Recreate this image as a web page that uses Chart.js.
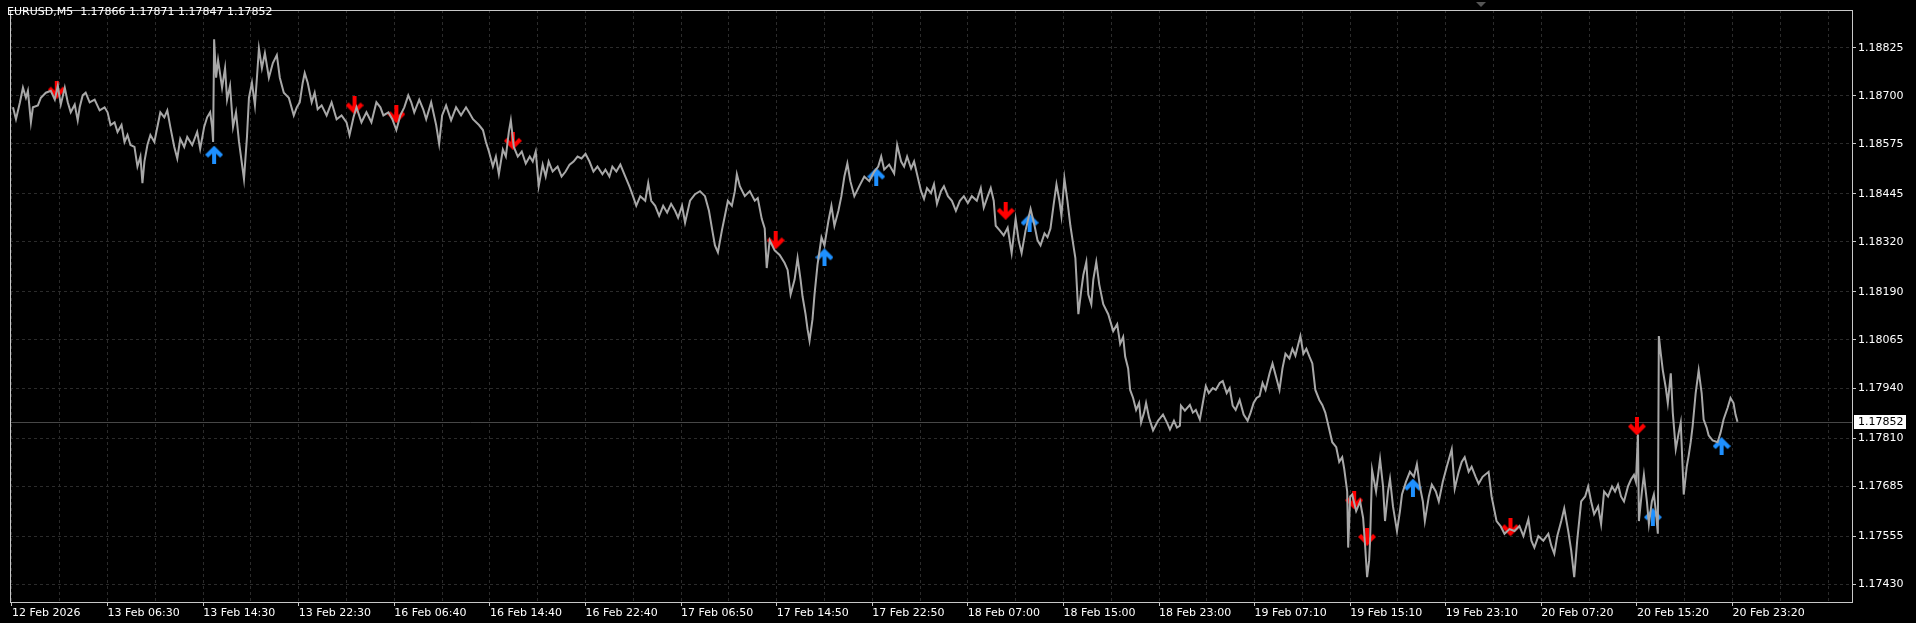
<!DOCTYPE html>
<html>
<head>
<meta charset="utf-8">
<title>EURUSD,M5</title>
<script src="https://cdn.jsdelivr.net/npm/chart.js@4.4.1/dist/chart.umd.min.js"></script>
<style>
  html, body { margin: 0; padding: 0; background: #000; overflow: hidden; }
  canvas { display: block; }
</style>
</head>
<body>
<canvas id="chart" width="1916" height="623" style="width:1916px;height:623px;"></canvas>
<script>
// EURUSD M5 - price path with signal arrows (MetaTrader style)

const symbolTitle = 'EURUSD,M5  1.17866 1.17871 1.17847 1.17852';
const lastPrice = 1.17852;

// time axis: one label every 96 bars (8 hours of M5)
const timeLabels = ['12 Feb 2026', '13 Feb 06:30', '13 Feb 14:30', '13 Feb 22:30', '16 Feb 06:40',
  '16 Feb 14:40', '16 Feb 22:40', '17 Feb 06:50', '17 Feb 14:50', '17 Feb 22:50', '18 Feb 07:00',
  '18 Feb 15:00', '18 Feb 23:00', '19 Feb 07:10', '19 Feb 15:10', '19 Feb 23:10', '20 Feb 07:20',
  '20 Feb 15:20', '20 Feb 23:20'];
const priceTicks = [1.18825, 1.18700, 1.18575, 1.18445, 1.18320, 1.18190, 1.18065,
  1.17940, 1.17810, 1.17685, 1.17555, 1.17430];

// price path (bar index, price): highs and lows
const pathBars = [
  1, 4, 8, 11, 14, 16, 19, 21, 26, 29,
  34, 39, 43, 46, 49, 53, 56, 59, 63, 66,
  68, 71, 74, 78, 83, 88, 93, 96, 99, 103,
  106, 110, 113, 116, 119, 123, 126, 129, 131, 133,
  136, 139, 143, 146, 149, 153, 156, 159, 163, 166,
  169, 173, 176, 181, 186, 189, 193, 196, 199, 201,
  202, 203, 205, 207, 211, 214, 216, 219, 222, 225,
  228, 233, 236, 238, 241, 244, 246, 248, 251, 254,
  258, 262, 266, 269, 273, 278, 283, 286, 289, 292,
  294, 297, 301, 304, 307, 311, 316, 321, 326, 331,
  336, 339, 343, 346, 351, 356, 361, 366, 370, 373,
  378, 382, 386, 390, 394, 398, 401, 404, 409, 413,
  416, 421, 426, 429, 432, 436, 441, 446, 451, 456,
  459, 463, 469, 473, 476, 479, 483, 486, 489, 493,
  496, 499, 501, 504, 508, 512, 516, 520, 523, 526,
  529, 533, 536, 539, 543, 548, 552, 556, 560, 564,
  568, 572, 576, 580, 584, 588, 593, 596, 600, 603,
  607, 611, 616, 620, 623, 627, 631, 636, 639, 642,
  646, 650, 654, 658, 662, 666, 669, 673, 676, 681,
  686, 691, 696, 700, 703, 706, 709, 713, 716, 719,
  723, 726, 728, 731, 736, 741, 746, 749, 753, 756,
  758, 761, 766, 771, 776, 779, 782, 786, 789, 792,
  794, 797, 799, 801, 804, 806, 809, 813, 816, 820,
  823, 826, 830, 833, 836, 839, 842, 846, 851, 856,
  861, 866, 870, 873, 876, 881, 886, 889, 893,
  896, 899, 903, 906, 909, 913, 916, 919, 923, 926,
  929, 933, 936, 940, 944, 948, 952, 956, 960, 964,
  969, 973, 976, 980, 983, 986, 988, 992, 996, 1000,
  1004, 1008, 1011, 1014, 1018, 1023, 1027, 1030, 1033, 1037,
  1040, 1043, 1046, 1049, 1052, 1054, 1057, 1060, 1063, 1066,
  1068, 1071, 1074, 1076, 1079, 1081, 1084, 1086, 1089, 1092,
  1096, 1101, 1106, 1110, 1113, 1116, 1118, 1121, 1123, 1126,
  1129, 1132, 1134, 1137, 1139, 1142, 1146, 1151, 1156, 1160,
  1163, 1167, 1170, 1173, 1174, 1178, 1183, 1186, 1189, 1193,
  1196, 1199, 1202, 1206, 1209, 1213, 1216, 1220, 1223, 1226,
  1229, 1233, 1237, 1241, 1244, 1247, 1250, 1253, 1256, 1259,
  1263, 1266, 1270, 1273, 1276, 1279, 1283, 1286, 1289, 1292,
  1294, 1297, 1300, 1303, 1306, 1309, 1313, 1316, 1319, 1323, 1326,
  1330, 1333, 1336, 1338, 1341, 1342, 1344, 1346, 1350, 1354,
  1357, 1359, 1361, 1363, 1364, 1366, 1370, 1374, 1377, 1379,
  1382, 1384, 1387, 1391, 1394, 1396, 1400, 1404, 1408, 1411,
  1414, 1417, 1419, 1423, 1426, 1430, 1433, 1437, 1441, 1446,
  1449, 1453, 1456, 1459, 1463, 1466, 1470, 1473, 1477, 1483,
  1486, 1491, 1495, 1499, 1504, 1509, 1514, 1518, 1523, 1526,
  1529, 1533, 1538, 1543, 1546, 1549, 1552, 1556, 1559, 1563,
  1566, 1569, 1572, 1576, 1580, 1583, 1586, 1589, 1593, 1596,
  1599, 1603, 1607, 1610, 1613, 1616, 1619, 1623, 1626, 1629,
  1631, 1633, 1634, 1637, 1639, 1642, 1644, 1647, 1649, 1651,
  1653, 1654, 1656, 1658, 1661, 1663, 1666, 1668, 1671, 1674,
  1676, 1679, 1682, 1684, 1686, 1688, 1691, 1694, 1697, 1699,
  1702, 1704, 1708, 1713, 1716, 1719, 1723, 1726, 1729, 1731, 1733
];
const pathPrices = [
  1.18670, 1.18639, 1.18683, 1.18721, 1.18695, 1.18713, 1.18631, 1.18670, 1.18675, 1.18695,
  1.18708, 1.18713, 1.18690, 1.18726, 1.18677, 1.18721, 1.18683, 1.18657, 1.18677, 1.18636,
  1.18670, 1.18701, 1.18708, 1.18683, 1.18690, 1.18662, 1.18670, 1.18657, 1.18624, 1.18631,
  1.18606, 1.18624, 1.18580, 1.18598, 1.18572, 1.18567, 1.18516, 1.18542, 1.18473, 1.18529,
  1.18572, 1.18598, 1.18580, 1.18619, 1.18657, 1.18644, 1.18662, 1.18619, 1.18567, 1.18537,
  1.18588, 1.18567, 1.18593, 1.18572, 1.18606, 1.18562, 1.18619, 1.18644, 1.18657, 1.18619,
  1.18580, 1.18847, 1.18747, 1.18793, 1.18721, 1.18772, 1.18690, 1.18726, 1.18619, 1.18657,
  1.18580, 1.18483, 1.18593, 1.18695, 1.18734, 1.18675, 1.18747, 1.18823, 1.18772, 1.18811,
  1.18747, 1.18785, 1.18806, 1.18747, 1.18708, 1.18695, 1.18649, 1.18670, 1.18683, 1.18734,
  1.18759, 1.18734, 1.18683, 1.18708, 1.18665, 1.18675, 1.18649, 1.18683, 1.18639, 1.18649,
  1.18631, 1.18598, 1.18644, 1.18670, 1.18631, 1.18657, 1.18631, 1.18683, 1.18670, 1.18649,
  1.18657, 1.18639, 1.18611, 1.18649, 1.18670, 1.18701, 1.18683, 1.18657, 1.18690, 1.18665,
  1.18639, 1.18683, 1.18624, 1.18575, 1.18649, 1.18675, 1.18636, 1.18670, 1.18649, 1.18670,
  1.18657, 1.18639, 1.18624, 1.18611, 1.18580, 1.18555, 1.18516, 1.18542, 1.18496, 1.18560,
  1.18542, 1.18606, 1.18636, 1.18567, 1.18542, 1.18555, 1.18524, 1.18542, 1.18529, 1.18555,
  1.18465, 1.18521, 1.18490, 1.18529, 1.18503, 1.18516, 1.18490, 1.18503, 1.18521, 1.18529,
  1.18542, 1.18537, 1.18549, 1.18529, 1.18503, 1.18516, 1.18496, 1.18508, 1.18490, 1.18516,
  1.18503, 1.18521, 1.18490, 1.18465, 1.18444, 1.18414, 1.18439, 1.18427, 1.18473, 1.18427,
  1.18414, 1.18388, 1.18414, 1.18396, 1.18419, 1.18401, 1.18383, 1.18414, 1.18370, 1.18427,
  1.18444, 1.18452, 1.18439, 1.18401, 1.18355, 1.18311, 1.18293, 1.18350, 1.18388, 1.18427,
  1.18414, 1.18452, 1.18496, 1.18465, 1.18439, 1.18452, 1.18427, 1.18434, 1.18380, 1.18355,
  1.18252, 1.18324, 1.18298, 1.18286, 1.18265, 1.18247, 1.18183, 1.18222, 1.18278, 1.18222,
  1.18178, 1.18132, 1.18093, 1.18063, 1.18119, 1.18183, 1.18260, 1.18332, 1.18311, 1.18375,
  1.18414, 1.18362, 1.18401, 1.18439, 1.18490, 1.18524, 1.18478, 1.18439, 1.18465, 1.18490,
  1.18478, 1.18503, 1.18516, 1.18542, 1.18508, 1.18521, 1.18498, 1.18572, 1.18529,
  1.18516, 1.18542, 1.18511, 1.18529, 1.18496, 1.18452, 1.18432, 1.18460, 1.18447, 1.18470,
  1.18419, 1.18452, 1.18465, 1.18439, 1.18427, 1.18401, 1.18427, 1.18439, 1.18421, 1.18439,
  1.18427, 1.18460, 1.18409, 1.18439, 1.18460, 1.18427, 1.18362, 1.18350, 1.18337, 1.18357,
  1.18291, 1.18380, 1.18324, 1.18291, 1.18350, 1.18406, 1.18362, 1.18324, 1.18311, 1.18342,
  1.18332, 1.18355, 1.18414, 1.18470, 1.18427, 1.18388, 1.18485, 1.18427, 1.18362, 1.18311,
  1.18278, 1.18132, 1.18196, 1.18234, 1.18268, 1.18183, 1.18158, 1.18222, 1.18268, 1.18209,
  1.18158, 1.18132, 1.18088, 1.18106, 1.18055, 1.18073, 1.18022, 1.17991, 1.17935, 1.17914,
  1.17883, 1.17901, 1.17850, 1.17876, 1.17901, 1.17863, 1.17830, 1.17855, 1.17871, 1.17850,
  1.17832, 1.17855, 1.17837, 1.17842, 1.17894, 1.17881, 1.17896, 1.17876, 1.17883, 1.17858,
  1.17901, 1.17945, 1.17927, 1.17940, 1.17935, 1.17953, 1.17958, 1.17927, 1.17940, 1.17894,
  1.17883, 1.17909, 1.17871, 1.17855, 1.17876, 1.17901, 1.17914, 1.17919, 1.17953, 1.17935,
  1.17978, 1.18004, 1.17965, 1.17935, 1.17991, 1.18029, 1.18017, 1.18042, 1.18024, 1.18055,
  1.18075, 1.18029, 1.18042, 1.18022, 1.18004, 1.17935, 1.17909, 1.17896, 1.17876, 1.17832, 1.17799,
  1.17786, 1.17748, 1.17760, 1.17730, 1.17671, 1.17525, 1.17658, 1.17663, 1.17620, 1.17645,
  1.17602, 1.17530, 1.17448, 1.17491, 1.17543, 1.17727, 1.17671, 1.17755, 1.17684, 1.17594,
  1.17671, 1.17704, 1.17632, 1.17568, 1.17620, 1.17663, 1.17696, 1.17722, 1.17709, 1.17742,
  1.17684, 1.17645, 1.17594, 1.17658, 1.17689, 1.17671, 1.17645, 1.17696, 1.17735, 1.17781,
  1.17678, 1.17722, 1.17748, 1.17760, 1.17722, 1.17735, 1.17709, 1.17691, 1.17709, 1.17722,
  1.17658, 1.17594, 1.17581, 1.17561, 1.17573, 1.17568, 1.17581, 1.17555, 1.17599, 1.17543,
  1.17525, 1.17555, 1.17543, 1.17561, 1.17530, 1.17509, 1.17555, 1.17594, 1.17627, 1.17568,
  1.17517, 1.17448, 1.17543, 1.17645, 1.17658, 1.17684, 1.17645, 1.17612, 1.17632, 1.17586,
  1.17671, 1.17658, 1.17684, 1.17671, 1.17689, 1.17658, 1.17645, 1.17684, 1.17702, 1.17714,
  1.17696, 1.17819, 1.17594, 1.17671, 1.17714, 1.17645, 1.17586, 1.17645, 1.17663, 1.17620,
  1.17561, 1.18075, 1.18029, 1.17986, 1.17940, 1.17901, 1.17978, 1.17876, 1.17781, 1.17824,
  1.17850, 1.17663, 1.17735, 1.17765, 1.17799, 1.17842, 1.17927, 1.17986, 1.17927, 1.17858,
  1.17837, 1.17817, 1.17804, 1.17799, 1.17824, 1.17858, 1.17888, 1.17914, 1.17901, 1.17871, 1.17852
];

// sell / buy signal arrows
const downBars = [45, 344, 386, 503, 767, 998, 1348, 1361, 1505, 1632];
const downPrices = [1.18716, 1.18675, 1.18652, 1.18583, 1.18324, 1.18401, 1.17648, 1.17553, 1.17578, 1.17840];
const upBars = [203, 816, 868, 1022, 1407, 1648, 1717];
const upPrices = [1.18547, 1.18280, 1.18490, 1.18370, 1.17681, 1.17604, 1.17789];

const FONT = '"DejaVu Sans", Tahoma, sans-serif';
const GRID = '#2b2b2b';
const FRAME = '#c8c8c8';

function makeArrow(color, up) {
  const c = document.createElement('canvas');
  c.width = 18; c.height = 18;
  const g = c.getContext('2d');
  if (up) { g.translate(0, 18); g.scale(1, -1); }
  g.fillStyle = color;
  g.fillRect(7, 0, 4, 13);           // shaft
  g.beginPath();                      // chevron head
  g.moveTo(0, 9); g.lineTo(3, 6); g.lineTo(9, 12); g.lineTo(15, 6);
  g.lineTo(18, 9); g.lineTo(9, 18); g.closePath();
  g.fill();
  return c;
}

const mtDecor = {
  id: 'mtDecor',
  beforeDatasetsDraw(chart) {
    const { ctx, chartArea: a, scales: { y } } = chart;
    const py = Math.round(y.getPixelForValue(lastPrice)) + 0.5;
    ctx.save();
    ctx.strokeStyle = '#474747';
    ctx.lineWidth = 1;
    ctx.beginPath();
    ctx.moveTo(a.left, py);
    ctx.lineTo(a.right, py);
    ctx.stroke();
    ctx.restore();
  },
  afterDraw(chart) {
    const { ctx, chartArea: a, scales: { y } } = chart;
    ctx.save();
    // frame
    ctx.strokeStyle = FRAME;
    ctx.lineWidth = 1;
    ctx.strokeRect(a.left + 0.5, a.top + 0.5, a.right - a.left, a.bottom - a.top);
    // chart shift marker
    ctx.fillStyle = '#555';
    ctx.beginPath();
    ctx.moveTo(1476, 2); ctx.lineTo(1486, 2); ctx.lineTo(1481, 7); ctx.closePath();
    ctx.fill();
    // symbol line
    ctx.font = '11px ' + FONT;
    ctx.fillStyle = '#ffffff';
    ctx.textBaseline = 'middle';
    ctx.textAlign = 'left';
    ctx.fillText(symbolTitle, 7, 12);
    // current price box
    const py = Math.round(y.getPixelForValue(lastPrice));
    ctx.fillStyle = '#ffffff';
    ctx.fillRect(a.right + 2, py - 7, 52, 14);
    ctx.fillStyle = '#000000';
    ctx.fillText(lastPrice.toFixed(5), a.right + 6, py + 0.5);
    ctx.restore();
  }
};

const chart = new Chart(document.getElementById('chart'), {
  type: 'scatter',
  data: {
    datasets: [
      {
        data: pathBars.map((b, i) => ({ x: b, y: pathPrices[i] })),
        showLine: true,
        borderColor: '#a8a8a8',
        borderWidth: 2,
        pointRadius: 0,
        tension: 0
      },
      {
        data: downBars.map((b, i) => ({ x: b, y: downPrices[i] })),
        pointStyle: makeArrow('#ff0000', false),
        pointRadius: 9
      },
      {
        data: upBars.map((b, i) => ({ x: b, y: upPrices[i] })),
        pointStyle: makeArrow('#1e90ff', true),
        pointRadius: 9
      }
    ]
  },
  options: {
    responsive: false,
    animation: false,
    layout: { padding: { left: 2, top: 1, right: 0, bottom: 0 } },
    plugins: { legend: { display: false }, tooltip: { enabled: false } },
    scales: {
      x: {
        type: 'linear',
        position: 'bottom',
        min: -2,
        max: 1848,
        afterBuildTicks: s => {
          const t = [];
          for (let v = 0; v <= 1848; v += 48) t.push({ value: v });
          s.ticks = t;
        },
        afterFit: s => { s.height = 21; },
        ticks: {
          autoSkip: false,
          maxRotation: 0,
          align: 'start',
          padding: 1,
          color: '#ffffff',
          font: { family: FONT, size: 11 },
          callback: v => (v % 96 === 0 ? (timeLabels[v / 96] || '') : '')
        },
        grid: {
          color: GRID,
          tickLength: 4,
          tickBorderDash: [],
          tickColor: c => (c.tick && c.tick.value % 96 === 0 && timeLabels[c.tick.value / 96]
            ? FRAME : 'rgba(0,0,0,0)')
        },
        border: { display: false, dash: [3, 3] }
      },
      y: {
        type: 'linear',
        position: 'right',
        min: 1.173835,
        max: 1.189231,
        afterBuildTicks: s => { s.ticks = priceTicks.map(v => ({ value: v })); },
        afterFit: s => { s.width = 64; },
        ticks: {
          autoSkip: false,
          padding: 2,
          color: '#ffffff',
          font: { family: FONT, size: 11 },
          callback: v => v.toFixed(5)
        },
        grid: { color: GRID, tickLength: 4, tickBorderDash: [], tickColor: FRAME },
        border: { display: false, dash: [3, 3] }
      }
    }
  },
  plugins: [mtDecor]
});
</script>
</body>
</html>
